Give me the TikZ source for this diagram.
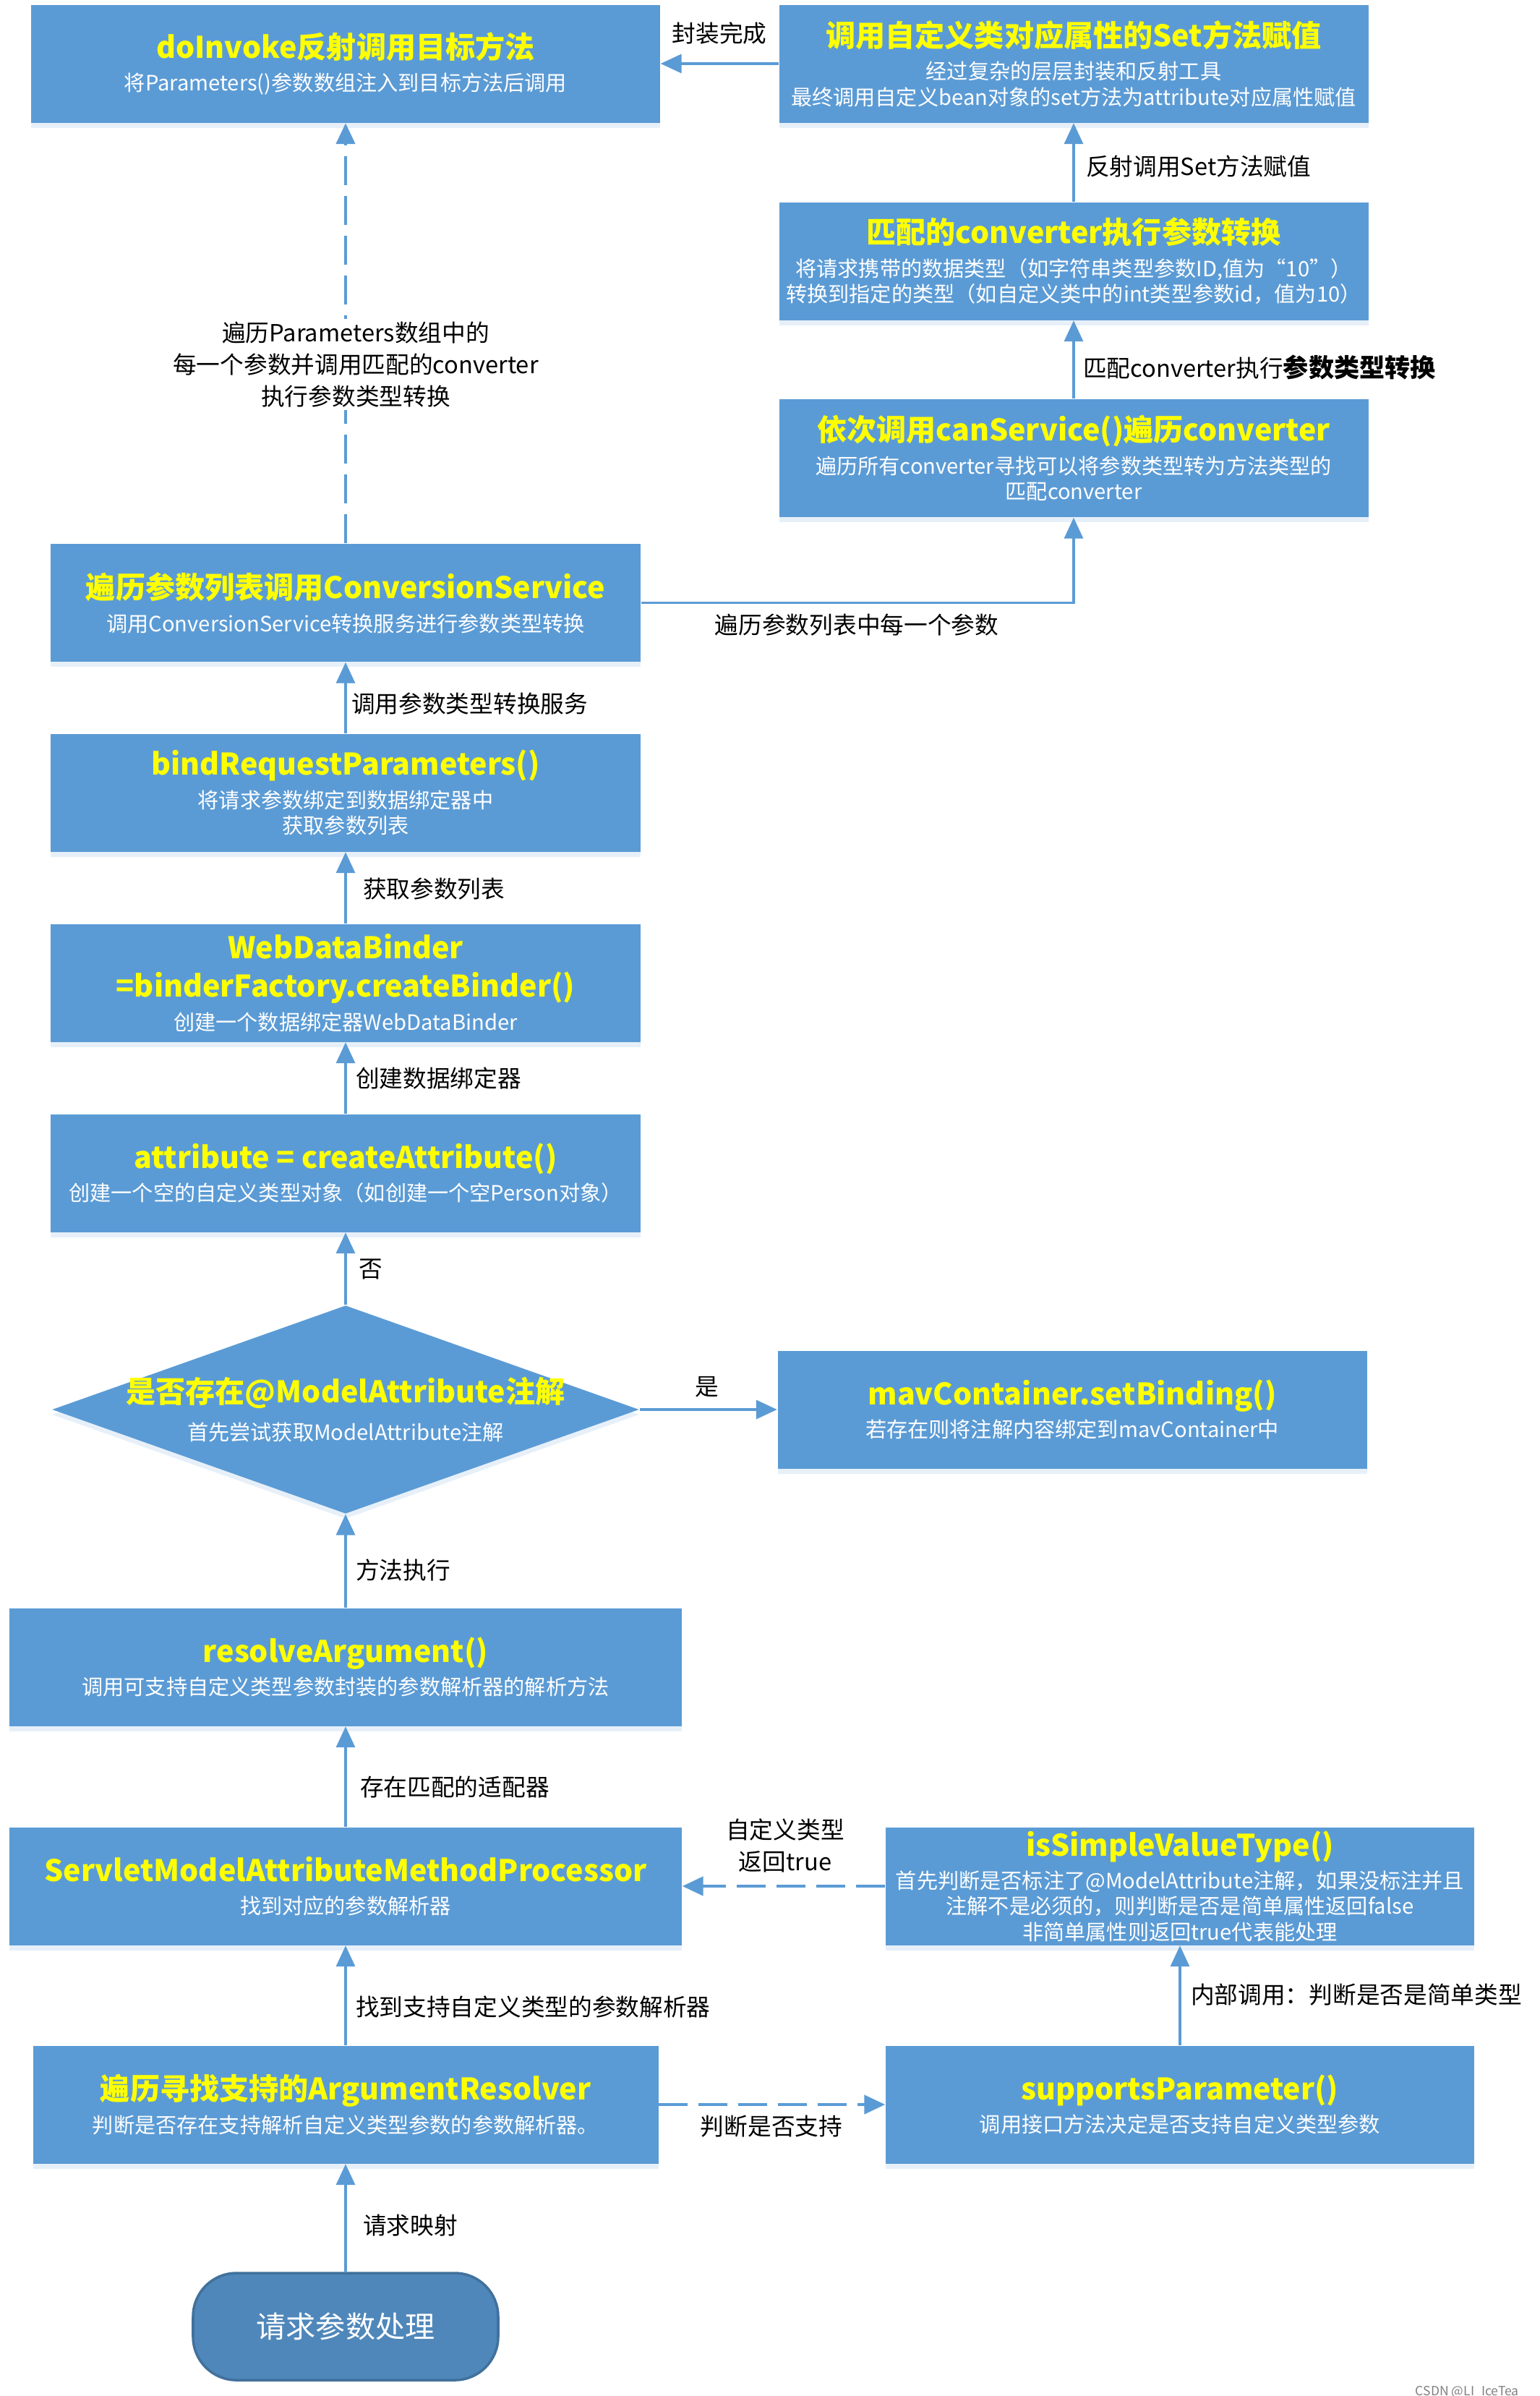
\documentclass[tikz,border=0pt]{standalone}
\usepackage{fontspec}
\setmainfont{Noto Sans CJK SC}
\usetikzlibrary{arrows.meta,shapes.geometric,shadows}
\definecolor{boxblue}{HTML}{5B9BD5}
\definecolor{startblue}{HTML}{4F87BA}
\definecolor{startline}{HTML}{41719C}
\definecolor{titleyellow}{HTML}{FFFF00}
\newcommand{\btitle}[1]{{\fontsize{11.7}{14}\selectfont\bfseries\color{titleyellow}#1}}
\newcommand{\bigpart}[1]{{\fontsize{10}{12}\selectfont\bfseries #1}}

\begin{document}
\begin{tikzpicture}[
    box/.style={rectangle, fill=boxblue, text=white, align=center, inner sep=0pt,
      font=\fontsize{8.3}{10}\selectfont, minimum height=1.63cm,
      drop shadow={shadow xshift=0cm, shadow yshift=-0.07cm, opacity=0.15, fill=boxblue}},
    decision/.style={diamond, fill=boxblue, inner sep=0pt, minimum width=8.12cm,
      minimum height=2.88cm, aspect=2.82,
      drop shadow={shadow xshift=0cm, shadow yshift=-0.07cm, opacity=0.15, fill=boxblue}},
    terminal/.style={rectangle, rounded corners=0.6cm, fill=startblue, draw=startline,
      line width=1pt, text=white, minimum width=4.22cm, minimum height=1.48cm,
      font=\fontsize{11.7}{14}\selectfont},
    flow/.style={draw=boxblue, line width=1pt, -{Triangle[length=2.9mm,width=2.6mm]}},
    dflow/.style={flow, line width=1.3pt, dash pattern=on 4mm off 1.5mm},
    lbl/.style={font=\fontsize{9.3}{12.5}\selectfont, align=center, inner sep=1pt}
  ]
    \useasboundingbox (0,0) rectangle (21.29,-33.13);

    \node[box, minimum width=8.70cm] (do) at (4.78,-0.88)
      {\btitle{doInvoke反射调用目标方法}\\[3pt]将Parameters()参数数组注入到目标方法后调用};
    \node[box, minimum width=8.15cm] (setval) at (14.85,-0.88)
      {\btitle{调用自定义类对应属性的Set方法赋值}\\[3pt]经过复杂的层层封装和反射工具\\最终调用自定义bean对象的set方法为attribute对应属性赋值};
    \node[box, minimum width=8.15cm] (match) at (14.85,-3.61)
      {\btitle{匹配的converter执行参数转换}\\[3pt]将请求携带的数据类型（如字符串类型参数ID,值为“10”）\\转换到指定的类型（如自定义类中的int类型参数id，值为10）};
    \node[box, minimum width=8.15cm] (can) at (14.85,-6.335)
      {\btitle{依次调用canService()遍历converter}\\[3pt]遍历所有converter寻找可以将参数类型转为方法类型的\\匹配converter};
    \node[box, minimum width=8.16cm] (conv) at (4.78,-8.335)
      {\btitle{遍历参数列表调用ConversionService}\\[3pt]调用ConversionService转换服务进行参数类型转换};
    \node[box, minimum width=8.16cm] (bind) at (4.78,-10.96)
      {\btitle{bindRequestParameters()}\\[3pt]将请求参数绑定到数据绑定器中\\获取参数列表};
    \node[box, minimum width=8.16cm] (wdb) at (4.78,-13.59)
      {\btitle{WebDataBinder}\\[4pt]\btitle{=binderFactory.createBinder()}\\[3pt]创建一个数据绑定器WebDataBinder};
    \node[box, minimum width=8.16cm] (attr) at (4.78,-16.22)
      {\btitle{attribute = createAttribute()}\\[3pt]创建一个空的自定义类型对象（如创建一个空Person对象）};
    \node[decision] (ma) at (4.78,-19.49) {};
    \node[text=white, align=center, font=\fontsize{8.3}{10}\selectfont] (matext) at (ma)
      {\btitle{是否存在@ModelAttribute注解}\\[5pt]首先尝试获取ModelAttribute注解};
    \node[box, minimum width=8.15cm] (mav) at (14.83,-19.49)
      {\btitle{mavContainer.setBinding()}\\[3pt]若存在则将注解内容绑定到mavContainer中};
    \node[box, minimum width=9.30cm] (res) at (4.78,-23.05)
      {\btitle{resolveArgument()}\\[3pt]调用可支持自定义类型参数封装的参数解析器的解析方法};
    \node[box, minimum width=9.30cm] (smap) at (4.78,-26.08)
      {\btitle{ServletModelAttributeMethodProcessor}\\[3pt]找到对应的参数解析器};
    \node[box, minimum width=8.14cm] (simple) at (16.32,-26.08)
      {\btitle{isSimpleValueType()}\\[3pt]首先判断是否标注了@ModelAttribute注解，如果没标注并且\\注解不是必须的，则判断是否是简单属性返回false\\非简单属性则返回true代表能处理};
    \node[box, minimum width=8.65cm] (ar) at (4.78,-29.10)
      {\btitle{遍历寻找支持的ArgumentResolver}\\[3pt]判断是否存在支持解析自定义类型参数的参数解析器。};
    \node[box, minimum width=8.14cm] (sup) at (16.32,-29.10)
      {\btitle{supportsParameter()}\\[3pt]调用接口方法决定是否支持自定义类型参数};
    \node[terminal] (start) at (4.78,-32.17) {请求参数处理};

    \foreach \a/\b in {start/ar, ar/smap, smap/res, res/ma, ma/attr, attr/wdb,
      wdb/bind, bind/conv, can/match, match/setval, setval/do, sup/simple, ma/mav}
    {
      \path (\a) edge[flow] (\b);
    };
    \draw[flow] (conv.east) -| (can.south);
    \path (conv) edge[dflow] (do);
    \path (simple) edge[dflow] (smap);
    \path (ar) edge[dflow] (sup);

    \node[lbl] (ldone) at (9.95,-0.46) {封装完成};
    \node[lbl, anchor=west] (lset) at (14.98,-2.30) {反射调用Set方法赋值};
    \node[lbl, anchor=west] (lmatch) at (14.94,-5.08) {匹配converter执行\bigpart{参数类型转换}};
    \node[lbl, fill=white] (lparam) at (4.92,-5.04)
      {遍历Parameters数组中的\\每一个参数并调用匹配的converter\\执行参数类型转换};
    \node[lbl] (leach) at (11.85,-8.64) {遍历参数列表中每一个参数};
    \node[lbl, anchor=west] (lservice) at (4.82,-9.73) {调用参数类型转换服务};
    \node[lbl, anchor=west] (llist) at (4.98,-12.29) {获取参数列表};
    \node[lbl, anchor=west] (lbinder) at (4.88,-14.91) {创建数据绑定器};
    \node[lbl, anchor=west] (lno) at (4.92,-17.55) {否};
    \node[lbl] (lyes) at (9.78,-19.18) {是};
    \node[lbl, anchor=west] (lexec) at (4.88,-21.71) {方法执行};
    \node[lbl, anchor=west] (ladapt) at (4.94,-24.71) {存在匹配的适配器};
    \node[lbl] (ltrue) at (10.86,-25.52) {自定义类型\\返回true};
    \node[lbl, anchor=west] (lfound) at (4.88,-27.75) {找到支持自定义类型的参数解析器};
    \node[lbl, anchor=west] (linner) at (16.43,-27.58) {内部调用：判断是否是简单类型};
    \node[lbl] (lsupport) at (10.67,-29.40) {判断是否支持};
    \node[lbl, anchor=west] (lmap) at (4.98,-30.77) {请求映射};
    \node[anchor=east, text=gray, font=\fontsize{5}{6}\selectfont] (mark) at (21.13,-33.07) {CSDN @LI\_IceTea};
  \end{tikzpicture}
\end{document}
